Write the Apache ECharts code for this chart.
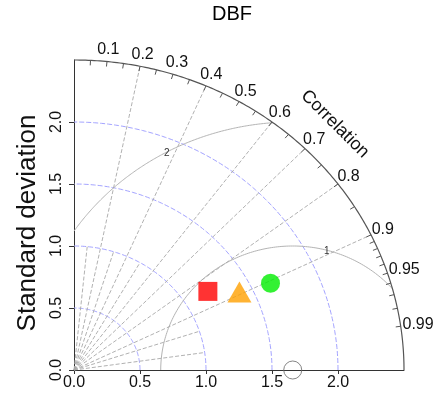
<!DOCTYPE html>
<html><head><meta charset="utf-8">
<script src="https://cdn.jsdelivr.net/npm/echarts@6/dist/echarts.min.js"></script>
<style>html,body{margin:0;padding:0;background:#fff}#c{width:442px;height:396px}</style>
</head><body><div id="c"></div>
<script>
// ---- data ----
const chartTitle = 'DBF';
const yAxisTitle = 'Standard deviation';
const arcTitle = 'Correlation';
const axisTickValues = [0, 0.5, 1.0, 1.5, 2.0];
const maxStd = 2.5;
const corrLabels = [0.1, 0.2, 0.3, 0.4, 0.5, 0.6, 0.7, 0.8, 0.9, 0.95, 0.99];
const corrTicks = [0.05, 0.1, 0.15, 0.2, 0.25, 0.3, 0.35, 0.4, 0.45, 0.5, 0.55, 0.6, 0.65, 0.7, 0.75, 0.8, 0.85, 0.9,
                   0.91, 0.92, 0.93, 0.94, 0.95, 0.96, 0.97, 0.98, 0.99];
const raysLong = [0.2, 0.4, 0.6, 0.7, 0.8, 0.9];
const raysShort = [0.1, 0.3, 0.5, 0.95, 0.99];
const stdCircles = [0.5, 1.0, 1.5, 2.0];
const rmsCircles = [1, 2];
const refStd = 1.657;
const modelStd = [1.196, 1.402, 1.645];
const modelCorr = [0.848, 0.894, 0.905];

// ---- helpers ----
const FONT = "'Liberation Sans', Arial, Helvetica, sans-serif";
const toXY = (s, c) => [s * c, s * Math.sqrt(1 - c * c)];

function arcPts(api, cx, r, a0, a1, n) {
  const pts = [];
  for (let i = 0; i <= n; i++) {
    const a = a0 + (a1 - a0) * i / n;
    pts.push(api.coord([cx + r * Math.cos(a), r * Math.sin(a)]));
  }
  return pts;
}

const chart = echarts.init(document.getElementById('c'), null, {renderer: 'canvas'});

const option = {
  animation: false,
  backgroundColor: '#fff',
  title: {
    text: chartTitle, left: 212, top: 4, padding: 0,
    textStyle: {fontSize: 20, fontWeight: 'normal', color: '#000', fontFamily: FONT}
  },
  grid: {left: 74, top: 60, width: 330, height: 310, containLabel: false, outerBoundsMode: 'none'},
  xAxis: {
    type: 'value', min: 0, max: maxStd, interval: 0.5,
    splitLine: {show: false},
    axisLine: {lineStyle: {color: '#333', width: 1}},
    axisTick: {show: true, length: 4, customValues: axisTickValues, lineStyle: {color: '#333'}},
    axisLabel: {customValues: axisTickValues, formatter: v => v.toFixed(1), fontSize: 16, color: '#111', fontFamily: FONT, margin: 5}
  },
  yAxis: {
    type: 'value', min: 0, max: maxStd, interval: 0.5,
    splitLine: {show: false},
    axisLine: {lineStyle: {color: '#333', width: 1}},
    axisTick: {show: true, length: 5, customValues: axisTickValues, lineStyle: {color: '#333'}},
    axisLabel: {customValues: axisTickValues, rotate: 90, formatter: v => v.toFixed(1), fontSize: 16, color: '#111', fontFamily: FONT, margin: 9}
  },
  graphic: [
    {type: 'text', x: 28, y: 223, rotation: Math.PI / 2,
     style: {text: yAxisTitle, fontSize: 26, fill: '#111', fontFamily: FONT, align: 'center', verticalAlign: 'middle'}},
    {type: 'text', x: 335, y: 124, rotation: -Math.PI / 4,
     style: {text: arcTitle, fontSize: 18, fill: '#111', fontFamily: FONT, align: 'center', verticalAlign: 'middle'}}
  ],
  series: [
    // std-dev circles (blue dashed)
    {
      type: 'custom', coordinateSystem: 'cartesian2d', silent: true, z: 1,
      data: stdCircles.map(r => [r, 0]),
      renderItem: (p, api) => ({
        type: 'polyline',
        shape: {points: arcPts(api, 0, api.value(0), 0, Math.PI / 2, 120)},
        style: {stroke: '#a4a4ff', fill: null, lineWidth: 1, lineDash: [5, 2]}
      })
    },
    // RMS circles around reference (gray)
    {
      type: 'custom', coordinateSystem: 'cartesian2d', silent: true, z: 1,
      data: rmsCircles.map(r => [r, 0]),
      renderItem: (p, api) => {
        const r = api.value(0), c = refStd, R = maxStd;
        const a0 = r <= c ? Math.PI : Math.atan2(Math.sqrt(r * r - c * c), -c);
        let a1 = 0;
        if (r + c > R) {
          const xe = (R * R + c * c - r * r) / (2 * c);
          const ye = Math.sqrt(R * R - xe * xe);
          a1 = Math.atan2(ye, xe - c);
        }
        const la = (p.dataIndex === 0 ? 75 : 118.5) * Math.PI / 180;
        const lp = api.coord([c + r * Math.cos(la), r * Math.sin(la)]);
        return {
          type: 'group', children: [
            {type: 'polyline', shape: {points: arcPts(api, c, r, a1, a0, 150)},
             style: {stroke: '#b4b4b4', fill: null, lineWidth: 1}},
            {type: 'text', x: lp[0], y: lp[1] + 1,
             style: {text: String(r), fontSize: 10, fill: '#333', fontFamily: FONT, align: 'center', verticalAlign: 'middle'}}
          ]
        };
      }
    },
    // correlation rays (long)
    {
      type: 'custom', coordinateSystem: 'cartesian2d', silent: true, z: 1,
      data: raysLong.map(c => [c, 0]),
      renderItem: (p, api) => {
        const o = api.coord([0, 0]);
        const e = api.coord(toXY(maxStd, api.value(0)));
        return {type: 'line', shape: {x1: o[0], y1: o[1], x2: e[0], y2: e[1]},
                style: {stroke: '#a8a8a8', lineWidth: 0.9, lineDash: [4, 2]}};
      }
    },
    // correlation rays (short)
    {
      type: 'custom', coordinateSystem: 'cartesian2d', silent: true, z: 1,
      data: raysShort.map(c => [c, 0]),
      renderItem: (p, api) => {
        const o = api.coord([0, 0]);
        const e = api.coord(toXY(1.0, api.value(0)));
        return {type: 'line', shape: {x1: o[0], y1: o[1], x2: e[0], y2: e[1]},
                style: {stroke: '#a8a8a8', lineWidth: 0.9, lineDash: [4, 2]}};
      }
    },
    // outer arc
    {
      type: 'custom', coordinateSystem: 'cartesian2d', silent: true, z: 2,
      data: [[maxStd, 0]],
      renderItem: (p, api) => ({
        type: 'polyline',
        shape: {points: arcPts(api, 0, api.value(0), 0, Math.PI / 2, 180)},
        style: {stroke: '#555', fill: null, lineWidth: 1.2}
      })
    },
    // outer arc ticks
    {
      type: 'custom', coordinateSystem: 'cartesian2d', silent: true, z: 2,
      data: corrTicks.map(c => [c, 0]),
      renderItem: (p, api) => {
        const o = api.coord([0, 0]);
        const e = api.coord(toXY(maxStd, api.value(0)));
        const dx = e[0] - o[0], dy = e[1] - o[1], L = Math.hypot(dx, dy);
        const len = 5;
        return {type: 'line', shape: {x1: e[0], y1: e[1], x2: e[0] - dx / L * len, y2: e[1] - dy / L * len},
                style: {stroke: '#555', lineWidth: 1}};
      }
    },
    // correlation labels
    {
      type: 'custom', coordinateSystem: 'cartesian2d', silent: true, z: 3,
      data: corrLabels.map(c => [c, 0]),
      renderItem: (p, api) => {
        const c = api.value(0), s = Math.sqrt(1 - c * c);
        const e = api.coord(toXY(maxStd, c));
        const txt = String(corrLabels[p.dataIndex]);
        const w = (txt.length - 1) * 8.9 + 4.45;
        return {type: 'text', x: e[0] + c * (2 + w / 2), y: e[1] - s * 12,
                style: {text: txt, fontSize: 16, fill: '#111', fontFamily: FONT, align: 'center', verticalAlign: 'middle'}};
      }
    },
    // reference point
    {
      type: 'scatter', name: 'Reference', clip: false, z: 5, symbol: 'circle', symbolSize: 18,
      itemStyle: {color: 'rgba(255,255,255,0)', borderColor: '#666', borderWidth: 1},
      data: [toXY(refStd, 1)]
    },
    {
      type: 'scatter', clip: false, z: 6, symbol: 'rect', symbolSize: 19,
      itemStyle: {color: '#ff0000'}, data: [toXY(modelStd[0], modelCorr[0])]
    },
    {
      type: 'scatter', clip: false, z: 6, symbol: 'triangle', symbolSize: [24, 21],
      itemStyle: {color: '#ffa000'}, data: [toXY(modelStd[1], modelCorr[1])]
    },
    {
      type: 'scatter', clip: false, z: 6, symbol: 'circle', symbolSize: 19,
      itemStyle: {color: '#00ee00'}, data: [toXY(modelStd[2], modelCorr[2])]
    }
  ]
};
chart.setOption(option);
</script>
</body></html>
